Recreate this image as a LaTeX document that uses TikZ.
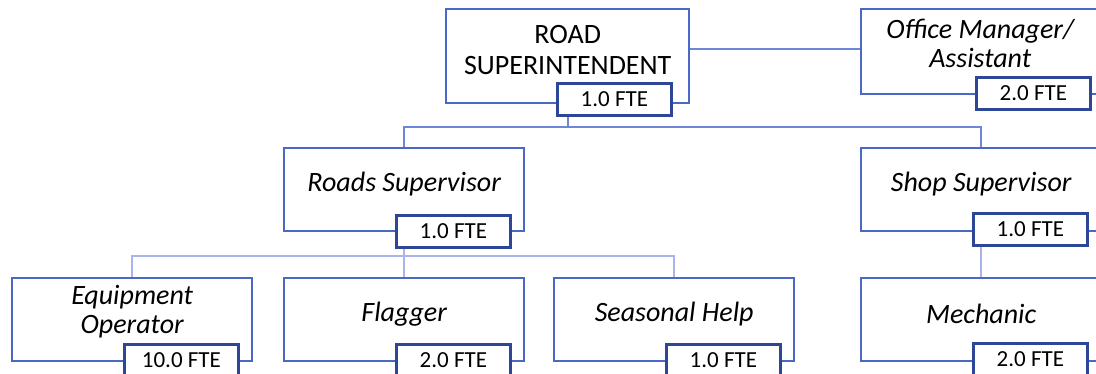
\documentclass[tikz,border=0pt]{standalone}
\usepackage{fontspec}
\setmainfont{Carlito}
\definecolor{boxblue}{HTML}{4A68C6}
\definecolor{ftedark}{HTML}{2E4696}
\definecolor{linemid}{HTML}{6D86D6}
\definecolor{linelight}{HTML}{A9B5E8}
\begin{document}
\begin{tikzpicture}[x=1pt,y=-1pt,
  unit/.style={draw=boxblue,line width=2.4pt,fill=white,anchor=north west,inner sep=0pt,
    minimum width=240pt,minimum height=83pt},
  utext/.style={align=center,inner sep=0pt,yshift=6pt,
    font=\fontsize{28}{29}\selectfont\itshape},
  fte/.style={draw=ftedark,line width=2.8pt,fill=white,anchor=north west,inner sep=0pt,
    minimum width=114pt,minimum height=32pt,font=\fontsize{23}{24}\selectfont},
  conmid/.style={draw=linemid,line width=2.4pt},
  conlight/.style={draw=linelight,line width=2.4pt}]
\useasboundingbox (0,0) rectangle (1096,374);
\clip (0,0) rectangle (1096,374);
% boxes
\node[unit,minimum width=243pt,minimum height=94pt] (super) at (445,8) {};
\node[unit,minimum width=242pt,minimum height=85pt] (office) at (860,8) {};
\node[unit] (roads) at (283,147) {};
\node[unit] (shop) at (860,147) {};
\node[unit] (equip) at (11,277) {};
\node[unit] (flag) at (283,277) {};
\node[unit] (seas) at (553,277) {};
\node[unit] (mech) at (860,277) {};
% texts
\node[utext,font=\fontsize{28}{31}\selectfont] (supert) at (super.center) {ROAD\\SUPERINTENDENT};
\node[utext,xshift=-2pt,yshift=2pt] (officet) at (office.center) {Office Manager/\\Assistant};
\node[utext] (roadst) at (roads.center) {Roads Supervisor};
\node[utext] (shopt) at (shop.center) {Shop Supervisor};
\node[utext,yshift=2pt] (equipt) at (equip.center) {Equipment\\Operator};
\node[utext] (flagt) at (flag.center) {Flagger};
\node[utext] (seast) at (seas.center) {Seasonal Help};
\node[utext] (mecht) at (mech.center) {Mechanic};
% connectors
\coordinate (j1) at (super.south |- 0,127);
\coordinate (j2) at (roads.south |- 0,256);
\draw[conmid] (super.east |- 0,49) -- (office.west |- 0,49);
\draw[conmid] (super.south) -- (j1);
\draw[conmid] (roads.north) |- (j1) -| (shop.north);
\draw[conlight] (roads.south) -- (j2);
\draw[conlight] (equip.north) |- (j2) -| (seas.north);
\draw[conlight] (j2) -- (flag.north);
\draw[conlight] (shop.south) -- (mech.north);
% fte boxes
\node[fte] (superfte) at (556,82) {1.0 FTE};
\node[fte] (officefte) at (975,76) {2.0 FTE};
\node[fte] (roadsfte) at (395,214) {1.0 FTE};
\node[fte] (shopfte) at (972,212) {1.0 FTE};
\node[fte] (equipfte) at (123,343) {10.0 FTE};
\node[fte] (flagfte) at (395,343) {2.0 FTE};
\node[fte] (seasfte) at (665,343) {1.0 FTE};
\node[fte] (mechfte) at (972,342) {2.0 FTE};
\end{tikzpicture}
\end{document}
